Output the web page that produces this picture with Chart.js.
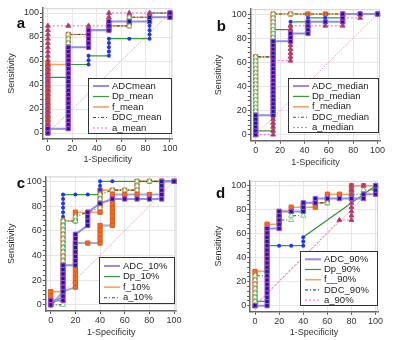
<!DOCTYPE html>
<html lang="en">
<head>
<meta charset="UTF-8">
<title>ROC curves</title>
<script src="https://cdn.jsdelivr.net/npm/chart.js"></script>
<style>
  body { margin: 0; width: 400px; height: 340px; background: #fff; position: relative; overflow: hidden; }
  canvas { position: absolute; }
</style>
</head>
<body>
<canvas id="pa" width="200" height="170" style="left:0;top:0"></canvas>
<canvas id="pb" width="200" height="170" style="left:200px;top:0"></canvas>
<canvas id="pc" width="200" height="170" style="left:0;top:170px"></canvas>
<canvas id="pd" width="200" height="170" style="left:200px;top:170px"></canvas>
<script>
// tick values (percent)
const majorTicks = [0, 20, 40, 60, 80, 100];
const yTickVals = [0, 4, 8, 12, 16, 20, 24, 28, 32, 36, 40, 44, 48, 52, 56, 60, 64, 68, 72, 76, 80, 84, 88, 92, 96, 100];

const diagLine = [[0, 0], [100, 100]];

// ---- panel a : mean ----
const labelsA = ['ADCmean', 'Dp_mean', 'f_mean', 'DDC_mean', 'a_mean'];
const aADC = [[0,0],[0,3.6],[16.7,3.6],[16.7,7.1],[16.7,10.7],[16.7,14.3],[16.7,17.9],[16.7,21.4],[16.7,25],[16.7,28.6],[16.7,32.1],[16.7,35.7],[16.7,39.3],[16.7,42.9],[16.7,46.4],[16.7,50],[16.7,53.6],[16.7,57.1],[16.7,60.7],[16.7,64.3],[16.7,67.9],[16.7,71.4],[33.3,71.4],[33.3,75],[33.3,78.6],[33.3,82.1],[33.3,85.7],[50,85.7],[50,89.3],[50,92.9],[66.7,92.9],[83.3,92.9],[83.3,96.4],[100,96.4],[100,100]];
const aDp = [[0,0],[0,3.6],[0,7.1],[0,10.7],[0,14.3],[0,17.9],[0,21.4],[0,25],[0,28.6],[0,32.1],[0,35.7],[0,39.3],[0,42.9],[0,46.4],[16.7,46.4],[16.7,50],[16.7,53.6],[16.7,57.1],[33.3,57.1],[33.3,60.7],[33.3,64.3],[50,64.3],[50,67.9],[50,71.4],[50,75],[50,78.6],[66.7,78.6],[83.3,78.6],[83.3,82.1],[83.3,85.7],[83.3,89.3],[83.3,92.9],[83.3,96.4],[83.3,100],[100,100]];
const aF = [[0,0],[0,3.6],[0,7.1],[0,10.7],[0,14.3],[0,17.9],[0,21.4],[0,25],[0,28.6],[0,32.1],[0,35.7],[0,39.3],[0,42.9],[0,46.4],[0,50],[0,53.6],[0,57.1],[16.7,57.1],[16.7,60.7],[16.7,64.3],[16.7,67.9],[16.7,71.4],[16.7,75],[16.7,78.6],[16.7,82.1],[33.3,82.1],[33.3,85.7],[50,85.7],[50,89.3],[66.7,89.3],[66.7,92.9],[66.7,96.4],[83.3,96.4],[100,96.4],[100,100]];
const aDDC = [[0,0],[0,3.6],[16.7,3.6],[16.7,7.1],[16.7,10.7],[16.7,14.3],[16.7,17.9],[16.7,21.4],[16.7,25],[16.7,28.6],[16.7,32.1],[16.7,35.7],[16.7,39.3],[16.7,42.9],[16.7,46.4],[16.7,50],[16.7,53.6],[16.7,57.1],[16.7,60.7],[16.7,64.3],[16.7,67.9],[16.7,71.4],[16.7,75],[16.7,78.6],[16.7,82.1],[33.3,82.1],[33.3,85.7],[50,85.7],[50,89.3],[66.7,89.3],[66.7,92.9],[66.7,96.4],[83.3,96.4],[83.3,100],[100,100]];
const aA = [[0,0],[0,3.6],[0,7.1],[0,10.7],[0,14.3],[0,17.9],[0,21.4],[0,25],[0,28.6],[0,32.1],[0,35.7],[0,39.3],[0,42.9],[0,46.4],[0,50],[0,53.6],[0,57.1],[0,60.7],[0,64.3],[0,67.9],[0,71.4],[0,75],[0,78.6],[0,82.1],[0,85.7],[0,89.3],[16.7,89.3],[33.3,89.3],[50,89.3],[50,92.9],[50,96.4],[50,100],[66.7,100],[83.3,100],[100,100]];

// ---- panel b : median ----
const labelsB = ['ADC_median', 'Dp_median', 'f_median', 'DDC_median', 'a_median'];
const bADC = [[0,0],[0,3.2],[0,6.5],[0,9.7],[0,12.9],[0,16.1],[14.3,16.1],[14.3,19.4],[14.3,22.6],[14.3,25.8],[14.3,29],[14.3,32.3],[14.3,35.5],[14.3,38.7],[14.3,41.9],[14.3,45.2],[14.3,48.4],[14.3,51.6],[14.3,54.8],[14.3,58.1],[14.3,61.3],[14.3,64.5],[14.3,67.7],[14.3,71],[14.3,74.2],[14.3,77.4],[28.6,77.4],[28.6,80.6],[28.6,83.9],[42.9,83.9],[42.9,87.1],[42.9,90.3],[42.9,93.5],[57.1,93.5],[71.4,93.5],[71.4,96.8],[71.4,100],[85.7,100],[100,100]];
const bDp = [[0,0],[0,3.2],[14.3,3.2],[14.3,6.5],[14.3,9.7],[14.3,12.9],[14.3,16.1],[14.3,19.4],[14.3,22.6],[14.3,25.8],[14.3,29],[14.3,32.3],[14.3,35.5],[14.3,38.7],[14.3,41.9],[14.3,45.2],[14.3,48.4],[14.3,51.6],[14.3,54.8],[14.3,58.1],[14.3,61.3],[14.3,64.5],[14.3,67.7],[14.3,71],[14.3,74.2],[14.3,77.4],[14.3,80.6],[14.3,83.9],[14.3,87.1],[28.6,87.1],[28.6,90.3],[28.6,93.5],[42.9,93.5],[42.9,96.8],[57.1,96.8],[71.4,96.8],[71.4,100],[85.7,100],[100,100]];
const bF = [[0,0],[0,3.2],[0,6.5],[0,9.7],[0,12.9],[0,16.1],[0,19.4],[0,22.6],[0,25.8],[0,29],[0,32.3],[0,35.5],[0,38.7],[0,41.9],[0,45.2],[0,48.4],[0,51.6],[0,54.8],[0,58.1],[0,61.3],[0,64.5],[14.3,64.5],[14.3,67.7],[14.3,71],[14.3,74.2],[14.3,77.4],[14.3,80.6],[14.3,83.9],[14.3,87.1],[14.3,90.3],[14.3,93.5],[14.3,96.8],[14.3,100],[28.6,100],[42.9,100],[57.1,100],[71.4,100],[85.7,100],[100,100]];
const bDDC = [[0,0],[0,3.2],[0,6.5],[0,9.7],[0,12.9],[0,16.1],[0,19.4],[0,22.6],[0,25.8],[0,29],[0,32.3],[0,35.5],[0,38.7],[0,41.9],[0,45.2],[0,48.4],[0,51.6],[0,54.8],[0,58.1],[0,61.3],[0,64.5],[14.3,64.5],[14.3,67.7],[14.3,71],[14.3,74.2],[14.3,77.4],[14.3,80.6],[14.3,83.9],[14.3,87.1],[14.3,90.3],[14.3,93.5],[14.3,96.8],[14.3,100],[28.6,100],[100,100]];
const bA = [[0,0],[14.3,0],[14.3,3.2],[14.3,6.5],[14.3,9.7],[14.3,12.9],[14.3,16.1],[14.3,19.4],[14.3,22.6],[14.3,25.8],[14.3,29],[14.3,32.3],[14.3,35.5],[14.3,38.7],[14.3,41.9],[14.3,45.2],[14.3,48.4],[14.3,51.6],[14.3,54.8],[14.3,58.1],[14.3,61.3],[28.6,61.3],[28.6,64.5],[28.6,67.7],[28.6,71],[28.6,74.2],[28.6,77.4],[28.6,80.6],[28.6,83.9],[28.6,87.1],[28.6,90.3],[42.9,90.3],[57.1,90.3],[71.4,90.3],[71.4,93.5],[71.4,96.8],[85.7,96.8],[85.7,100],[100,100]];

// ---- panel c : 10th percentile ----
const labelsC = ['ADC_10%', 'Dp_10%', 'f_10%', 'a_10%', 'DDC_10%'];
const cADC = [[0,0],[0,3.6],[10,3.6],[10,7.1],[10,10.7],[10,14.3],[10,17.9],[10,21.4],[10,25],[10,28.6],[10,32.1],[20,32.1],[20,35.7],[20,39.3],[20,42.9],[20,46.4],[20,50],[20,53.6],[20,57.1],[30,64.3],[30,67.9],[30,71.4],[30,75],[40,82.1],[50,85.7],[60,85.7],[70,85.7],[80,85.7],[90,85.7],[90,89.3],[90,92.9],[90,96.4],[90,100],[100,100]];
const cDp = [[0,0],[10,7.1],[10,10.7],[10,14.3],[10,17.9],[10,21.4],[10,25],[10,28.6],[10,32.1],[10,35.7],[10,39.3],[10,42.9],[10,46.4],[10,50],[10,53.6],[10,57.1],[10,60.7],[10,64.3],[10,67.9],[10,71.4],[10,75],[10,78.6],[10,82.1],[10,85.7],[10,89.3],[20,89.3],[30,89.3],[40,89.3],[40,92.9],[40,96.4],[40,100],[50,100],[100,100]];
const cF = [[0,0],[0,3.6],[0,7.1],[0,10.7],[10,10.7],[10,14.3],[10,17.9],[10,21.4],[10,25],[10,28.6],[10,32.1],[10,35.7],[10,39.3],[10,42.9],[10,46.4],[10,50],[10,53.6],[10,57.1],[10,60.7],[10,64.3],[10,67.9],[20,67.9],[20,71.4],[20,75],[30,75],[40,75],[40,78.6],[40,82.1],[40,85.7],[40,89.3],[40,92.9],[50,92.9],[60,92.9],[70,92.9],[70,96.4],[70,100],[80,100],[90,100],[100,100]];
const cA = [[0,0],[10,0],[10,3.6],[10,7.1],[10,10.7],[10,14.3],[10,17.9],[10,21.4],[10,25],[10,28.6],[10,32.1],[10,35.7],[10,39.3],[10,42.9],[10,46.4],[10,50],[10,53.6],[10,57.1],[10,60.7],[10,64.3],[10,67.9],[20,67.9],[20,71.4],[40,78.6],[40,82.1],[40,85.7],[40,89.3],[50,92.9],[60,92.9],[70,92.9],[70,96.4],[70,100],[80,100],[90,100],[100,100]];
const cDDC = [[0,0],[10,10.7],[20,14.3],[20,17.9],[20,21.4],[20,25],[20,28.6],[20,32.1],[20,35.7],[20,39.3],[20,42.9],[20,46.4],[20,50],[30,50],[40,50],[40,53.6],[40,57.1],[40,60.7],[40,64.3],[50,64.3],[50,67.9],[50,71.4],[50,75],[50,78.6],[50,82.1],[50,85.7],[50,89.3],[60,89.3],[70,89.3],[80,89.3],[90,89.3],[90,92.9],[90,96.4],[90,100],[100,100]];

// ---- panel d : 90th percentile ----
const labelsD = ['ADC_90%', 'Dp_90%', 'f__90%', 'DDC_90%', 'a_90%'];
const dADC = [[0,0],[10,0],[10,3.6],[10,7.1],[10,10.7],[10,14.3],[10,17.9],[10,21.4],[10,25],[10,28.6],[10,32.1],[10,35.7],[10,39.3],[10,42.9],[10,46.4],[10,50],[10,53.6],[10,57.1],[10,60.7],[10,64.3],[20,64.3],[20,67.9],[20,71.4],[20,75],[20,78.6],[30,78.6],[40,78.6],[40,82.1],[40,85.7],[50,85.7],[50,89.3],[60,89.3],[70,89.3],[80,89.3],[90,89.3],[90,92.9],[100,92.9],[100,96.4],[100,100]];
const dDp = [[0,0],[0,3.6],[10,3.6],[10,7.1],[10,10.7],[10,14.3],[10,17.9],[10,21.4],[10,25],[10,28.6],[10,32.1],[10,35.7],[10,39.3],[10,42.9],[10,46.4],[10,50],[20,50],[30,50],[40,50],[40,53.6],[40,57.1],[100,100]];
const dF = [[0,0],[0,3.6],[0,7.1],[0,10.7],[0,14.3],[0,17.9],[0,21.4],[0,25],[0,28.6],[10,28.6],[10,32.1],[10,35.7],[10,39.3],[10,42.9],[10,46.4],[10,50],[10,53.6],[10,57.1],[10,60.7],[10,64.3],[10,67.9],[20,67.9],[20,71.4],[20,75],[20,78.6],[30,78.6],[30,82.1],[40,82.1],[50,82.1],[50,85.7],[60,85.7],[60,89.3],[60,92.9],[70,92.9],[80,92.9],[80,96.4],[80,100],[90,100],[100,100]];
const dDDC = [[0,0],[0,3.6],[0,7.1],[0,10.7],[0,14.3],[0,17.9],[0,21.4],[0,25],[10,25],[10,28.6],[10,32.1],[10,35.7],[10,39.3],[10,42.9],[10,46.4],[10,50],[10,53.6],[10,57.1],[10,60.7],[10,64.3],[20,64.3],[20,67.9],[20,71.4],[30,71.4],[30,75],[40,75],[40,78.6],[40,82.1],[40,85.7],[50,85.7],[60,85.7],[60,89.3],[70,89.3],[80,89.3],[80,92.9],[90,92.9],[90,96.4],[100,96.4],[100,100]];
const dA = [[0,0],[70,71.4],[80,71.4],[80,75],[80,78.6],[80,82.1],[80,85.7],[80,89.3],[80,92.9],[80,96.4],[80,100],[90,100],[100,100]];

Chart.defaults.font.family = '"Liberation Sans", Arial, sans-serif';

const styles = {
  ADC: { borderColor: '#8f8fe6', borderWidth: 2, pointStyle: 'rect', pointRadius: 3, pointBackgroundColor: '#1c1c96', pointBorderColor: '#b048d8', pointBorderWidth: 1, order: 1 },
  Dp: { borderColor: '#3c963c', borderWidth: 1.2, pointStyle: 'circle', pointRadius: 2, pointBackgroundColor: '#1f35f5', pointBorderColor: '#1f35f5', pointBorderWidth: 0, order: 4 },
  f: { borderColor: '#f7a25e', borderWidth: 1.6, pointStyle: 'rect', pointRadius: 3, pointBackgroundColor: '#f26a1f', pointBorderColor: '#e4581a', pointBorderWidth: 1, order: 5 },
  DDC: { borderColor: '#2f5f3f', borderWidth: 1.1, borderDash: [3, 2, 1, 2], pointStyle: 'triangle', pointRadius: 3, pointBackgroundColor: '#ffffff', pointBorderColor: '#86c886', pointBorderWidth: 1, order: 3 },
  a: { borderColor: '#ff50ff', borderWidth: 1, borderDash: [2, 2], pointStyle: 'triangle', pointRadius: 2.8, pointBackgroundColor: '#c03048', pointBorderColor: '#b04878', pointBorderWidth: 1, order: 2 },
  extra: { borderColor: '#a8a8d8', borderWidth: 2, pointStyle: 'rect', pointRadius: 3, pointBackgroundColor: '#f26a1f', pointBorderColor: '#e4581a', pointBorderWidth: 1, order: 6 },
  diag: { borderColor: '#e2b4b4', borderWidth: 1, borderDash: [2, 1], pointRadius: 0, order: 10 }
};

function ds(label, pts, style) {
  return Object.assign({
    label: label,
    data: pts.map(([x, y]) => ({ x: x, y: y })),
    showLine: true, fill: false, clip: false, pointHoverRadius: 0
  }, styles[style]);
}

const panels = [
  { id: 'pa', letter: 'a', L: 43, R: 172.4, T: 8.2, B: 139, xt: 4.6, yt: 6.3, lx: 16.7, ly: 28.3,
    legend: { x: 88, y: 78, w: 83, h: 55, y0: 86, gap: 10.5, items: [0, 1, 2, 3, 4] },
    datasets: [ds(labelsA[0], aADC, 'ADC'), ds(labelsA[1], aDp, 'Dp'), ds(labelsA[2], aF, 'f'), ds(labelsA[3], aDDC, 'DDC'), ds(labelsA[4], aA, 'a'), ds('', diagLine, 'diag')] },
  { id: 'pb', letter: 'b', L: 50.8, R: 180, T: 9.2, B: 140.7, xt: 1.9, yt: 12.9, lx: 16.7, ly: 30.7,
    legend: { x: 88, y: 78, w: 90, h: 54, y0: 86, gap: 10.4, items: [0, 1, 2, 3, 4] },
    datasets: [ds(labelsB[0], bADC, 'ADC'), ds(labelsB[1], bDp, 'Dp'), ds(labelsB[2], bF, 'f'), ds(labelsB[3], bDDC, 'DDC'), ds(labelsB[4], bA, 'a'), ds('', diagLine, 'diag')] },
  { id: 'pc', letter: 'c', L: 45.8, R: 176.5, T: 6.4, B: 141, xt: 1.9, yt: 6.3, lx: 16.7, ly: 18.3,
    legend: { x: 99, y: 87, w: 75, h: 46, y0: 96, gap: 10.6, items: [0, 1, 2, 3] },
    datasets: [ds(labelsC[0], cADC, 'ADC'), ds(labelsC[1], cDp, 'Dp'), ds(labelsC[2], cF, 'f'), ds(labelsC[3], cA, 'DDC'), ds(labelsC[4], cDDC, 'extra'), ds('', diagLine, 'diag')] },
  { id: 'pd', letter: 'd', L: 50.2, R: 178, T: 10.9, B: 141.7, xt: 1.9, yt: 12.9, lx: 16, ly: 28.3,
    legend: { x: 100, y: 81, w: 77, h: 54, y0: 89.3, gap: 10.2, items: [0, 1, 2, 3, 4] },
    datasets: [ds(labelsD[0], dADC, 'ADC'), ds(labelsD[1], dDp, 'Dp'), ds(labelsD[2], dF, 'f'), ds(labelsD[3], dDDC, 'DDC'), ds(labelsD[4], dA, 'a'), ds('', diagLine, 'diag')] }
];

// light frame behind data, boxed legend and panel letter on top
const boxLegend = {
  id: 'boxLegend',
  beforeDatasetsDraw(chart) {
    const a = chart.chartArea, ctx = chart.ctx;
    ctx.save();
    ctx.strokeStyle = '#d0d0d0';
    ctx.lineWidth = 1;
    ctx.beginPath();
    ctx.moveTo(a.left, a.top + 0.5);
    ctx.lineTo(a.right - 0.5, a.top + 0.5);
    ctx.lineTo(a.right - 0.5, a.bottom);
    ctx.stroke();
    ctx.restore();
  },
  afterDatasetsDraw(chart, args, o) {
    const ctx = chart.ctx;
    ctx.save();
    ctx.fillStyle = '#fff';
    ctx.fillRect(o.x, o.y, o.w, o.h);
    ctx.strokeStyle = '#333';
    ctx.lineWidth = 1;
    ctx.strokeRect(o.x + 0.5, o.y + 0.5, o.w, o.h);
    ctx.font = '9.5px "Liberation Sans", Arial, sans-serif';
    ctx.textBaseline = 'middle';
    o.items.forEach((idx, i) => {
      const d = chart.data.datasets[idx];
      const y = o.y0 + i * o.gap;
      ctx.strokeStyle = d.borderColor;
      ctx.lineWidth = d.borderWidth;
      ctx.setLineDash(d.borderDash || []);
      ctx.beginPath();
      ctx.moveTo(o.x + 5, y);
      ctx.lineTo(o.x + 21, y);
      ctx.stroke();
      ctx.setLineDash([]);
      ctx.fillStyle = '#222';
      ctx.fillText(d.label, o.x + 24, y);
    });
    ctx.font = 'bold 15px "Liberation Sans", Arial, sans-serif';
    ctx.textBaseline = 'alphabetic';
    ctx.fillStyle = '#111';
    ctx.fillText(o.letter, o.lx, o.ly);
    ctx.restore();
  }
};

panels.forEach(p => {
  new Chart(document.getElementById(p.id), {
    type: 'scatter',
    data: { datasets: p.datasets },
    plugins: [boxLegend],
    options: {
      responsive: false,
      animation: false,
      devicePixelRatio: 1,
      layout: { padding: { left: 0, top: p.T, right: 200 - p.R, bottom: 0 } },
      plugins: {
        legend: { display: false },
        tooltip: { enabled: false },
        boxLegend: Object.assign({ letter: p.letter, lx: p.lx, ly: p.ly }, p.legend)
      },
      scales: {
        x: {
          type: 'linear', min: -4, max: 102,
          afterBuildTicks: ax => { ax.ticks = majorTicks.map(v => ({ value: v })); },
          afterFit: ax => { ax.height = 170 - p.B; },
          ticks: { font: { size: 9 }, color: '#333', padding: 1, maxRotation: 0, autoSkip: false },
          grid: { color: '#e6e6e6', tickColor: '#555', tickLength: 3 },
          border: { color: '#666', width: 1.5 },
          title: { display: true, text: '1-Specificity', font: { size: 9 }, color: '#333', padding: { top: 0, bottom: p.xt } }
        },
        y: {
          type: 'linear', min: -5, max: 104,
          afterBuildTicks: ax => { ax.ticks = yTickVals.map(v => ({ value: v })); },
          afterFit: ax => { ax.width = p.L; },
          ticks: { font: { size: 9 }, color: '#333', padding: 1, autoSkip: false,
            callback: v => (majorTicks.includes(v) ? v : '') },
          grid: {
            color: c => (c.tick && majorTicks.includes(c.tick.value)) ? '#e6e6e6' : 'rgba(0,0,0,0)',
            tickColor: '#555', tickLength: 3
          },
          border: { color: '#666', width: 1.5 },
          title: { display: true, text: 'Sensitivity', font: { size: 9 }, color: '#333', padding: { top: p.yt, bottom: 0 } }
        }
      }
    }
  });
});
</script>
</body>
</html>
